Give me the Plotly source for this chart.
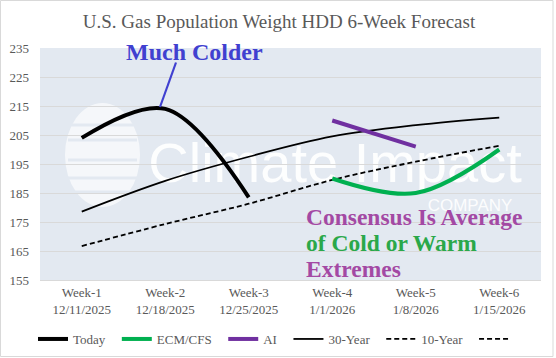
import plotly.graph_objects as go

weeks = ["Week-1", "Week-2", "Week-3", "Week-4", "Week-5", "Week-6"]
dates = ["12/11/2025", "12/18/2025", "12/25/2025", "1/1/2026", "1/8/2026", "1/15/2026"]
tick_labels = [f"{w}<br>{d}" for w, d in zip(weeks, dates)]

today_vals = [204, 214, 183.5, None, None, None]
ecm_vals = [None, None, None, 190, 185, 200]
ai_vals = [None, None, None, 210, 201, None]
normal30_vals = [178.6, 189.2, 197.5, 204.5, 208.4, 211]
normal10_vals = [166.7, 174.3, 181.3, 189.5, 195.8, 201.3]

yticks = [155, 165, 175, 185, 195, 205, 215, 225, 235]

# layout geometry (pixels)
W, H = 556, 358
L, R, T, B = 40, 15, 48, 78
pw, ph = W - L - R, H - T - B


def px(x):
    return (x - L) / pw


def py(y):
    return (H - B - y) / ph


SERIF = "Liberation Serif, Times New Roman, serif"
SANS = "Liberation Sans, Arial, sans-serif"
GREY = "#595959"
NB = "\u00a0\u00a0"
xi = list(range(len(weeks)))

fig = go.Figure()

fig.add_trace(go.Scatter(x=xi, y=normal30_vals, name="30-Year" + NB, mode="lines",
                         line=dict(color="black", width=1.8, shape="spline"), legendrank=4))
fig.add_trace(go.Scatter(x=xi, y=normal10_vals, name="10-Year" + NB, mode="lines",
                         line=dict(color="black", width=1.8, dash="5px,3px", shape="spline"), legendrank=5))
fig.add_trace(go.Scatter(x=xi, y=today_vals, name="Today" + NB, mode="lines",
                         line=dict(color="black", width=4, shape="spline"), legendrank=1))
fig.add_trace(go.Scatter(x=xi, y=ecm_vals, name="ECM/CFS" + NB, mode="lines",
                         line=dict(color="#00B050", width=4, shape="spline"), legendrank=2))
fig.add_trace(go.Scatter(x=xi, y=ai_vals, name="AI" + NB, mode="lines",
                         line=dict(color="#7030A0", width=4, shape="spline"), legendrank=3))
fig.add_trace(go.Scatter(x=[None], y=[None], name=" ", mode="lines",
                         line=dict(color="black", width=1.8, dash="5px,3px"), legendrank=6))

shapes = []
# watermark logo (ellipse) below gridlines
shapes.append(dict(type="circle", xref="paper", yref="paper", layer="below",
                   x0=px(65), x1=px(140), y0=py(207), y1=py(103),
                   fillcolor="rgba(255,255,255,0.65)", line=dict(width=0)))
for yy in [125, 140, 160, 178, 192]:
    shapes.append(dict(type="line", xref="paper", yref="paper", layer="below",
                       x0=px(68), x1=px(137), y0=py(yy), y1=py(yy),
                       line=dict(color="#E3E9F1", width=3)))
# watermark text as shape labels (below gridlines)
shapes.append(dict(type="rect", xref="paper", yref="paper", layer="below",
                   x0=px(150), x1=px(520), y0=py(195), y1=py(120),
                   fillcolor="rgba(0,0,0,0)", line=dict(width=0),
                   label=dict(text="Climate Impact", textposition="middle center",
                              font=dict(family=SANS, size=56,
                                        color="rgba(255,255,255,0.92)"))))
shapes.append(dict(type="rect", xref="paper", yref="paper", layer="below",
                   x0=px(425), x1=px(515), y0=py(215), y1=py(192),
                   fillcolor="rgba(0,0,0,0)", line=dict(width=0),
                   label=dict(text="COMPANY", textposition="middle center",
                              font=dict(family=SANS, size=17,
                                        color="rgba(255,255,255,0.92)"))))
# "Much Colder" pointer line
shapes.append(dict(type="line", xref="paper", yref="paper", layer="above",
                   x0=px(176), y0=py(62.5), x1=px(160), y1=py(107),
                   line=dict(color="#4040D0", width=2.2)))
# outer chart border
shapes.append(dict(type="rect", xref="paper", yref="paper", layer="above",
                   x0=px(0.5), x1=px(553), y0=py(356.5), y1=py(0.5),
                   line=dict(color="#D9D9D9", width=1), fillcolor="rgba(0,0,0,0)"))

annotations = [
    dict(text="<b>Much Colder</b>", xref="paper", yref="paper", x=px(194), y=py(52),
         xanchor="center", yanchor="middle", showarrow=False,
         font=dict(family=SERIF, size=24, color="#4040D0")),
    dict(text="<b>Consensus Is Average</b>", xref="paper", yref="paper", x=px(304), y=py(217),
         xanchor="left", yanchor="middle", showarrow=False,
         font=dict(family=SERIF, size=23.5, color="#A349A4")),
    dict(text="<b>of Cold or Warm</b>", xref="paper", yref="paper", x=px(304), y=py(243),
         xanchor="left", yanchor="middle", showarrow=False,
         font=dict(family=SERIF, size=23.5, color="#2AA84A")),
    dict(text="<b>Extremes</b>", xref="paper", yref="paper", x=px(304), y=py(269),
         xanchor="left", yanchor="middle", showarrow=False,
         font=dict(family=SERIF, size=23.5, color="#A349A4")),
]

fig.update_layout(
    width=W, height=H,
    margin=dict(l=L, r=R, t=T, b=B, pad=0),
    paper_bgcolor="white",
    plot_bgcolor="#E3E9F1",
    font=dict(family=SERIF, size=13, color=GREY),
    title=dict(text="U.S. Gas Population Weight HDD 6-Week Forecast",
               x=279 / W, xref="container", xanchor="center",
               y=1 - 21.5 / H, yref="container", yanchor="middle",
               font=dict(family=SERIF, size=19, color=GREY)),
    xaxis=dict(range=[-0.5, 5.5], tickvals=xi, ticktext=tick_labels, automargin=False,
               showgrid=False, zeroline=False, showline=True, linecolor="#D9D9D9",
               ticks="", tickfont=dict(family=SERIF, size=13, color=GREY)),
    yaxis=dict(range=[155, 235], tickvals=yticks, showgrid=True, gridcolor="#D9D9D9",
               gridwidth=1, zeroline=False, showline=False, ticks="", automargin=False,
               ticklabelstandoff=10,
               tickfont=dict(family=SERIF, size=13, color=GREY)),
    legend=dict(orientation="h", xref="container", yref="container",
                x=0.5, xanchor="center", y=1 - 339 / H, yanchor="middle",
                font=dict(family=SERIF, size=13, color=GREY),
                bgcolor="rgba(0,0,0,0)", itemwidth=30, tracegroupgap=0),
    shapes=shapes,
    annotations=annotations,
    showlegend=True,
)

fig.write_html("out.html", config={"displayModeBar": False},
               post_script="document.body.style.margin='0';")
